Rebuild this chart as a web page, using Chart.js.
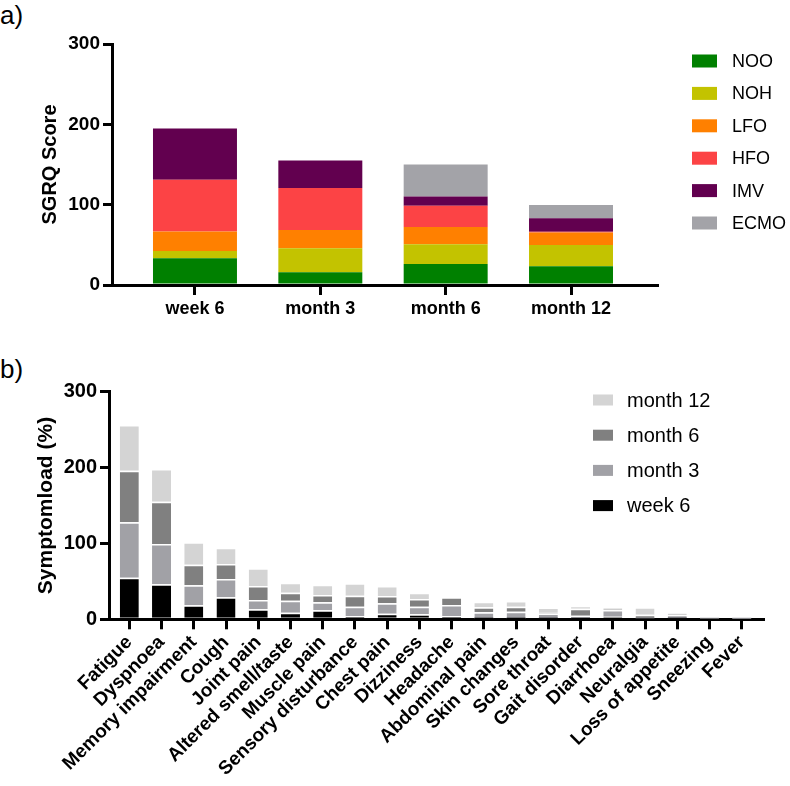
<!DOCTYPE html>
<html><head><meta charset="utf-8">
<script src="https://cdn.jsdelivr.net/npm/chart.js@4.4.1/dist/chart.umd.min.js"></script>
<style>
html,body{margin:0;padding:0;background:#fff;width:790px;height:786px;overflow:hidden;position:relative;}
canvas{position:absolute;left:0;}
#ca{top:0;}
#cb{top:330px;}
.lab{position:absolute;font-family:'Liberation Sans',Arial,sans-serif;font-size:26px;color:#000;line-height:1;}
</style></head><body>
<div class="lab" style="left:0;top:2px">a)</div>
<div class="lab" style="left:0;top:356px">b)</div>
<canvas id="ca" width="790" height="320"></canvas>
<canvas id="cb" width="790" height="456"></canvas>
<script>
const F = "'Liberation Sans', Arial, sans-serif";

// ---- Chart a data ----
const catsA = ['week 6', 'month 3', 'month 6', 'month 12'];
const noo  = [33.2, 15.8, 26.2, 23.3];
const noh  = [9.2, 29.9, 24.5, 26.6];
const lfo  = [24.1, 22.9, 21.6, 15.3];
const hfo  = [64.4, 52.3, 26.2, 1.0];
const imv  = [64.0, 34.1, 11.6, 16.9];
const ecmo = [0, 0, 39.9, 16.6];
const yTicksA = [0, 100, 200, 300];

// ---- Chart b data ----
const catsB = ['Fatigue', 'Dyspnoea', 'Memory impairment', 'Cough', 'Joint pain', 'Altered smell/taste',
  'Muscle pain', 'Sensory disturbance', 'Chest pain', 'Dizziness', 'Headache', 'Abdominal pain',
  'Skin changes', 'Sore throat', 'Gait disorder', 'Diarrhoea', 'Neuralgia', 'Loss of appetite',
  'Sneezing', 'Fever'];
const week6   = [54.9, 46.1, 18.4, 29.0, 13.2, 8.7, 11.9, 4.3, 7.4, 6.6, 4.3, 0.5, 0.5, 1.5, 0.5, 3.4, 0, 1.5, 0, 0];
const month3  = [72.9, 53.2, 26.4, 24.1, 12.2, 15.8, 10.5, 12.3, 13.7, 10.0, 14.5, 8.7, 9.5, 6.0, 4.2, 8.9, 1.5, 4.5, 1.0, 0.8];
const month6  = [68.1, 55.7, 27.2, 19.8, 18.5, 10.5, 9.6, 14.5, 9.6, 10.1, 10.2, 6.6, 6.6, 2.0, 9.3, 1.0, 4.5, 1.5, 1.5, 0.7];
const month12 = [60.2, 43.1, 29.5, 21.5, 23.3, 13.2, 13.6, 16.3, 13.2, 8.3, 0, 7.4, 7.5, 6.0, 3.9, 1.6, 9.8, 1.5, 0, 0];
const yTicksB = [0, 100, 200, 300];

const boxLegend = {
  id: 'boxLegend',
  afterDraw(chart, args, o) {
    const ctx = chart.ctx;
    const list = o.reverse ? chart.data.datasets.slice().reverse() : chart.data.datasets;
    ctx.save();
    ctx.font = o.font;
    ctx.textBaseline = 'middle';
    ctx.textAlign = 'left';
    list.forEach((ds, i) => {
      const cy = o.y + i * o.pitch;
      ctx.fillStyle = ds.backgroundColor;
      ctx.fillRect(o.x, cy - o.bh / 2, o.bw, o.bh);
      ctx.fillStyle = '#000';
      ctx.fillText(ds.label, o.tx, cy + 1);
    });
    ctx.restore();
  }
};

function toPts(vals) { return vals.map((v, i) => ({x: i, y: v})); }

const axisCommon = {
  grid: {drawOnChartArea: false, drawTicks: true, lineWidth: 3, color: '#000', offset: false},
  border: {display: true, width: 3, color: '#000'},
  z: 1
};

// ---- Chart a ----
const seriesA = [['NOO', noo, '#008000'], ['NOH', noh, '#c3c300'], ['LFO', lfo, '#ff8000'],
  ['HFO', hfo, '#fc4345'], ['IMV', imv, '#62004f'], ['ECMO', ecmo, '#a3a3a8']];

new Chart(document.getElementById('ca'), {
  type: 'bar',
  data: {
    datasets: seriesA.map(([label, vals, color]) => ({
      label, data: toPts(vals), backgroundColor: color, borderWidth: 0,
      barPercentage: 1, categoryPercentage: 0.67
    }))
  },
  options: {
    responsive: false, animation: false,
    layout: {padding: {left: 0, top: 44, right: 133, bottom: 0}},
    plugins: {
      legend: {display: false}, tooltip: {enabled: false},
      boxLegend: {x: 692, bw: 25, bh: 13, tx: 732, y: 61, pitch: 32.4, font: "18px " + F}
    },
    scales: {
      x: Object.assign({}, axisCommon, {
        type: 'linear', stacked: true, min: -0.662, max: 3.686, offset: false,
        afterBuildTicks: ax => { ax.ticks = catsA.map((_, i) => ({value: i})); },
        afterFit: ax => { ax.height = 35; },
        ticks: {callback: v => catsA[v], font: {family: F, size: 18, weight: 'bold'}, color: '#000',
          maxRotation: 0, minRotation: 0, padding: 3, autoSkip: false},
        grid: Object.assign({}, axisCommon.grid, {tickLength: 10})
      }),
      y: Object.assign({}, axisCommon, {
        stacked: true, min: 0, max: 300,
        afterBuildTicks: ax => { ax.ticks = yTicksA.map(v => ({value: v})); },
        afterFit: ax => { ax.width = 112; },
        ticks: {font: {family: F, size: 19, weight: 'bold'}, color: '#000', padding: 3},
        grid: Object.assign({}, axisCommon.grid, {tickLength: 9}),
        title: {display: true, text: 'SGRQ Score', color: '#000',
          font: {family: F, size: 20, weight: 'bold'}, padding: {top: 38, bottom: 0}}
      })
    }
  },
  plugins: [boxLegend]
});

// ---- Chart b ----
const seriesB = [['week 6', week6, '#000000'], ['month 3', month3, '#a1a1a6'],
  ['month 6', month6, '#808080'], ['month 12', month12, '#d4d4d4']];

new Chart(document.getElementById('cb'), {
  type: 'bar',
  data: {
    datasets: seriesB.map(([label, vals, color]) => ({
      label, data: toPts(vals), backgroundColor: color, borderColor: '#ffffff',
      borderWidth: {top: 1.5, left: 0, right: 0, bottom: 0}, borderSkipped: 'start',
      barPercentage: 1, categoryPercentage: 0.59
    }))
  },
  options: {
    responsive: false, animation: false,
    layout: {padding: {left: 0, top: 61.7, right: 27, bottom: 0}},
    plugins: {
      legend: {display: false}, tooltip: {enabled: false},
      boxLegend: {reverse: true, x: 593, bw: 20, bh: 11, tx: 627, y: 70, pitch: 35.2, font: "20px " + F}
    },
    scales: {
      x: Object.assign({}, axisCommon, {
        type: 'linear', stacked: true, min: -0.63, max: 19.66, offset: false,
        afterBuildTicks: ax => { ax.ticks = catsB.map((_, i) => ({value: i})); },
        afterFit: ax => { ax.height = 166.7; },
        ticks: {callback: v => catsB[v], font: {family: F, size: 19, weight: 'bold'}, color: '#000',
          maxRotation: 45, minRotation: 45, padding: 2, autoSkip: false},
        grid: Object.assign({}, axisCommon.grid, {tickLength: 10})
      }),
      y: Object.assign({}, axisCommon, {
        stacked: true, min: 0, max: 300,
        afterBuildTicks: ax => { ax.ticks = yTicksB.map(v => ({value: v})); },
        afterFit: ax => { ax.width = 109; },
        ticks: {font: {family: F, size: 20, weight: 'bold'}, color: '#000', padding: 3},
        grid: Object.assign({}, axisCommon.grid, {tickLength: 9}),
        title: {display: true, text: 'Symptomload (%)', color: '#000',
          font: {family: F, size: 21, weight: 'bold'}, padding: {top: 34, bottom: 0}}
      })
    }
  },
  plugins: [boxLegend]
});
</script>
</body></html>
